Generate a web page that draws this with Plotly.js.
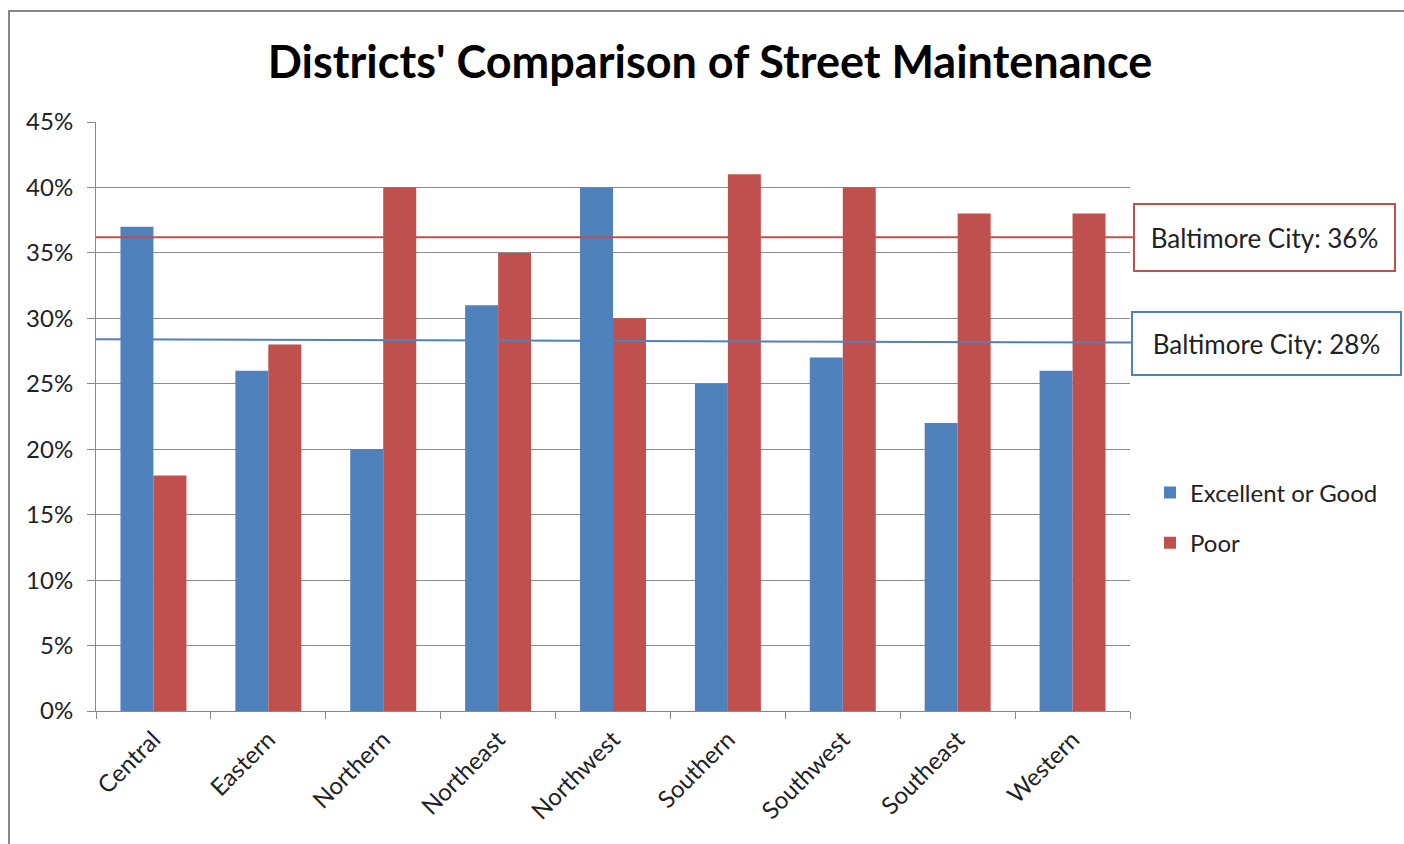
<!DOCTYPE html>
<html>
<head>
<meta charset="utf-8">
<script src="https://cdn.plot.ly/plotly-3.0.1.min.js"></script>
<style>
html,body{margin:0;padding:0;background:#fff;}
#wrap{position:relative;width:1404px;height:844px;overflow:hidden;}
#chart{position:absolute;left:0;top:0;width:1404px;height:844px;}
#frame{position:absolute;left:8px;top:10px;width:1500px;height:900px;border-left:2px solid #888;border-top:2px solid #888;pointer-events:none;}
</style>
</head>
<body>
<div id="wrap"><div id="chart"></div><div id="frame"></div></div>
<script>
const districts = ["Central","Eastern","Northern","Northeast","Northwest","Southern","Southwest","Southeast","Western"];
const excellentOrGood = [37, 26, 20, 31, 40, 25, 27, 22, 26];
const poor = [18, 28, 40, 35, 30, 41, 40, 38, 38];
const cityPoor = [36.2, 36.2];        // Baltimore City average, Poor (start, end)
const cityGood = [28.4, 28.15];       // Baltimore City average, Excellent or Good (start, end)
const cityPoorLabel = "Baltimore City: 36%";
const cityGoodLabel = "Baltimore City: 28%";
const yTicks = [0,5,10,15,20,25,30,35,40,45];

const BLUE = "#4F81BD", RED = "#C0504D";
const FONT = "Lato, 'Noto Sans', sans-serif";

const traces = [
  {type:"bar", name:"Excellent or Good", x:districts, y:excellentOrGood, marker:{color:BLUE}, legendgroup:"a"},
  {type:"bar", name:"Poor", x:districts, y:poor, marker:{color:RED}, legendgroup:"b"}
];

const layout = {
  width:1404, height:844,
  margin:{l:96, r:274, t:122, b:133},
  paper_bgcolor:"#fff", plot_bgcolor:"#fff",
  font:{family:FONT, color:"#222"},
  title:{text:"Districts' Comparison of Street Maintenance", font:{family:FONT, size:45, color:"#000", weight:"bold"},
         xref:"container", x:0.5057, xanchor:"center", yref:"container", y:1-62/844, yanchor:"middle"},
  barmode:"group", bargap:0.426, bargroupgap:0,
  xaxis:{type:"category", tickson:"boundaries", ticks:"outside", ticklen:7, tickcolor:"#888", tickwidth:1,
         showline:true, linecolor:"#888", linewidth:1, tickangle:-45, tickfont:{size:24, color:"#222"},
         ticklabelstandoff:4, showgrid:false, zeroline:false, range:[-0.5,8.5]},
  yaxis:{range:[0,45], tickvals:yTicks, ticktext:yTicks.map(v=>v+"%"), ticks:"outside", ticklen:8,
         tickcolor:"#888", showline:true, linecolor:"#888", linewidth:1, gridcolor:"#8c8c8c", gridwidth:1,
         zeroline:false, tickfont:{size:24, color:"#222"}, ticklabelstandoff:9},
  legend:{x:1150/1404, xref:"container", y:(844-518)/844, yref:"container", yanchor:"middle", xanchor:"left",
          font:{size:24, color:"#222"}, tracegroupgap:16, traceorder:"grouped", bgcolor:"rgba(0,0,0,0)"},
  shapes:[
    {type:"line", xref:"paper", yref:"y", x0:0, x1:(1133-96)/1034, y0:cityPoor[0], y1:cityPoor[1], line:{color:RED, width:2}, layer:"above"},
    {type:"line", xref:"paper", yref:"y", x0:0, x1:(1131-96)/1034, y0:cityGood[0], y1:cityGood[1], line:{color:BLUE, width:2}, layer:"above"}
  ],
  annotations:[
    {text:cityPoorLabel, xref:"paper", yref:"y", x:(1133-96)/1034, y:cityPoor[1], xanchor:"left", yanchor:"middle",
     showarrow:false, font:{size:26, color:"#222", family:FONT}, bordercolor:RED, borderwidth:2, borderpad:0,
     width:259, height:65, bgcolor:"#fff"},
    {text:cityGoodLabel, xref:"paper", yref:"y", x:(1131-96)/1034, y:cityGood[1]-0.06, xanchor:"left", yanchor:"middle",
     showarrow:false, font:{size:26, color:"#222", family:FONT}, bordercolor:BLUE, borderwidth:2, borderpad:0,
     width:267, height:61, bgcolor:"#fff"}
  ]
};

Plotly.newPlot("chart", traces, layout, {displayModeBar:false, staticPlot:true});
</script>
</body>
</html>
